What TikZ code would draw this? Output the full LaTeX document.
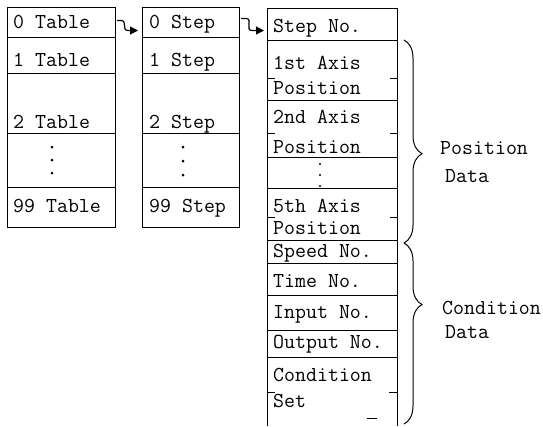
\documentclass[tikz,border=0pt]{standalone}
\usepackage{fontspec}
\usetikzlibrary{arrows.meta,decorations.pathreplacing,calc}
\begin{document}
\begin{tikzpicture}[x=1pt,y=-1pt,
  frame/.style={draw, line width=1pt, inner sep=0pt, anchor=north west},
  opencell/.style={inner sep=0pt, anchor=north west},
  txt/.style={font=\ttfamily\fontsize{21.3}{24}\selectfont, inner sep=0pt, anchor=base west},
  tick/.style={line width=1pt},
  dot/.style={circle, fill, inner sep=0pt, minimum size=3pt},
  squig/.style={line width=1.2pt, -{Triangle[length=8pt,width=8pt]}},
  curly/.style={line width=1pt, decorate, decoration={brace, amplitude=18pt, aspect=#1}}
]
\useasboundingbox[fill=white] (0,0) rectangle (543,426);

% table column
\node[frame, minimum width=108pt, minimum height=30pt] (t0) at (7,7) {};
\node[frame, minimum width=108pt, minimum height=36pt] (t1) at (7,37) {};
\node[frame, minimum width=108pt, minimum height=60pt] (t2) at (7,73) {};
\node[frame, minimum width=108pt, minimum height=54pt] (t3) at (7,133) {};
\node[frame, minimum width=108pt, minimum height=40pt] (t4) at (7,187) {};
\node[txt] (lt0) at (13,28) {0 Table};
\node[txt] (lt1) at (13,66) {1 Table};
\node[txt] (lt2) at (13,128) {2 Table};
\node[txt] (lt4) at (13,212) {99 Table};
\node[dot] (dt1) at (52,147) {};
\node[dot] (dt2) at (52,160) {};
\node[dot] (dt3) at (52,173) {};

% step column
\node[frame, minimum width=97pt, minimum height=30pt] (s0) at (142,7) {};
\node[frame, minimum width=97pt, minimum height=36pt] (s1) at (142,37) {};
\node[frame, minimum width=97pt, minimum height=60pt] (s2) at (142,73) {};
\node[frame, minimum width=97pt, minimum height=54pt] (s3) at (142,133) {};
\node[frame, minimum width=97pt, minimum height=40pt] (s4) at (142,187) {};
\node[txt] (ls0) at (149,28) {0 Step};
\node[txt] (ls1) at (149,66) {1 Step};
\node[txt] (ls2) at (149,128) {2 Step};
\node[txt] (ls4) at (149,212) {99 Step};
\node[dot] (ds1) at (183,147) {};
\node[dot] (ds2) at (183,161) {};
\node[dot] (ds3) at (183,175) {};

% step data column
\node[frame, minimum width=130pt, minimum height=32pt] (c0) at (267,8) {};
\node[frame, minimum width=130pt, minimum height=60pt] (c1) at (267,40) {};
\node[frame, minimum width=130pt, minimum height=57pt] (c2) at (267,100) {};
\node[frame, minimum width=130pt, minimum height=31pt] (c3) at (267,157) {};
\node[frame, minimum width=130pt, minimum height=52pt] (c4) at (267,188) {};
\node[frame, minimum width=130pt, minimum height=23pt] (c5) at (267,240) {};
\node[frame, minimum width=130pt, minimum height=32pt] (c6) at (267,263) {};
\node[frame, minimum width=130pt, minimum height=35pt] (c7) at (267,295) {};
\node[frame, minimum width=130pt, minimum height=27pt] (c8) at (267,330) {};
\node[opencell, minimum width=130pt, minimum height=69pt] (c9) at (267,357) {};
\draw[tick] (c9.north west) -- (c9.south west);
\draw[tick] (c9.north east) -- (c9.south east);
\draw[tick] ($(c9.north west)+(100,61)$) -- ++(10,0);

\node[txt] (lc0) at (273,32) {Step No.};
\node[txt] (lc1a) at (273,69) {1st Axis};
\node[txt] (lc1b) at (273,94) {Position};
\node[txt] (lc2a) at (273,123) {2nd Axis};
\node[txt] (lc2b) at (273,153) {Position};
\node[dot, minimum size=2.4pt] (dc1) at (320,164) {};
\node[dot, minimum size=2.4pt] (dc2) at (320,175) {};
\node[dot, minimum size=2.4pt] (dc3) at (320,186) {};
\node[txt] (lc4a) at (273,212) {5th Axis};
\node[txt] (lc4b) at (273,234) {Position};
\node[txt] (lc5) at (273,257) {Speed No.};
\node[txt] (lc6) at (273,287) {Time No.};
\node[txt] (lc7) at (273,318) {Input No.};
\node[txt] (lc8) at (273,348) {Output No.};
\node[txt] (lc9a) at (273,381) {Condition};
\node[txt] (lc9b) at (273,407) {Set};

% half-row marks on two-line entries
\foreach \c/\d in {c1/38, c2/33, c4/29, c9/35} {
  \draw[tick] ($(\c.north west)+(0,\d)$) -- ++(8,0);
  \draw[tick] ($(\c.north east)+(0,\d)$) -- ++(-8,0);
}

% links between the lists
\draw[squig] ([xshift=1pt,yshift=2pt]t0.east) -- ++(4,0)
  to[out=0,in=180,looseness=1.4] ([xshift=-14pt,yshift=-8pt]s0.west)
  -- ([xshift=-4pt,yshift=-8pt]s0.west);
\draw[squig] ([xshift=1pt,yshift=4pt]s0.east) -- ++(5,0)
  to[out=0,in=180,looseness=1.4] ([xshift=-15pt,yshift=-6pt]c0.west)
  -- ([xshift=-3pt,yshift=-6pt]c0.west);

% groupings
\draw[curly=0.56] (404,40) -- (404,243);
\draw[curly=0.34] (404,243) -- (404,424);
\node[txt] (pd1) at (440,154) {Position};
\node[txt] (pd2) at (445,182) {Data};
\node[txt] (cd1) at (442,314) {Condition};
\node[txt] (cd2) at (445,338) {Data};
\end{tikzpicture}
\end{document}
